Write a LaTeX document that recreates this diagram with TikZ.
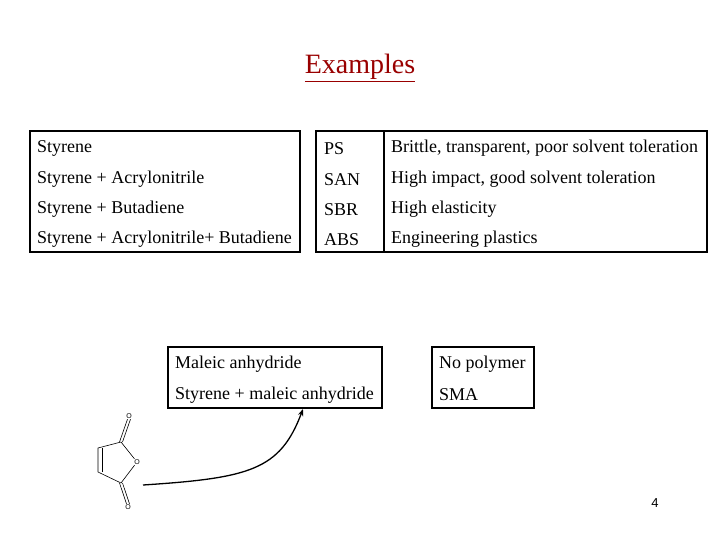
\documentclass[tikz,border=0pt]{standalone}
\usepackage{fontspec}
\setmainfont{Liberation Serif}
\newfontfamily\sansf{Liberation Sans}
\usetikzlibrary{arrows.meta}
\begin{document}
\begin{tikzpicture}[x=1pt,y=-1pt,
  tx/.style={anchor=west,inner sep=0pt,font=\fontsize{18}{20}\selectfont},
  bx/.style={draw,line width=1.2pt},
  bond/.style={line width=0.6pt},
  atom/.style={inner sep=0.5pt,font=\sansf\fontsize{7}{8}\selectfont}]
\useasboundingbox (0,0) rectangle (720,540);
\node[inner sep=0pt,text=red!60!black,font=\fontsize{28}{32}\selectfont] (title) at (360,68) {\underline{Examples}};
% table 1
\draw[bx] (30,131) rectangle (300,252);
\draw[bx] (316,131) rectangle (384,252);
\draw[bx] (384,131) rectangle (707,252);
\foreach \y/\a/\b/\c [count=\i] in {148/Styrene/PS/{Brittle, transparent, poor solvent toleration},
  179/Styrene + Acrylonitrile/SAN/{High impact, good solvent toleration},
  209/Styrene + Butadiene/SBR/High elasticity,
  239/Styrene + Acrylonitrile+ Butadiene/ABS/Engineering plastics}{
  \node[tx] (a\i) at (37,\y) {\a};
  \node[tx] (b\i) at (324,\y+1) {\b};
  \node[tx] (c\i) at (391,\y) {\c};
}
% table 2
\draw[bx] (168,347) rectangle (382,408);
\draw[bx] (432,347) rectangle (534,408);
\node[tx] (m1) at (175,364) {Maleic anhydride};
\node[tx] (m2) at (175,395) {Styrene + maleic anhydride};
\node[tx] (n1) at (439,364) {No polymer};
\node[tx] (n2) at (439,395) {SMA};
% molecule
\node[atom] (o1) at (129,416) {O};
\node[atom] (o2) at (137,462) {O};
\node[atom] (o3) at (128,507) {O};
\coordinate (c1) at (121,442);
\coordinate (c2) at (121,483);
\coordinate (c3) at (98,448);
\coordinate (c4) at (98,472);
\draw[bond] (c1) -- (o2) -- (c2) -- (c4) -- (c3) -- (c1);
\draw[bond] ([xshift=4pt]c3) -- ([xshift=4pt]c4);
\draw[bond] ([xshift=-1.5pt]c1) -- ([xshift=-1.5pt]o1.south);
\draw[bond] ([xshift=1.5pt]c1) -- ([xshift=1.5pt]o1.south);
\draw[bond] ([xshift=-1.5pt]c2) -- ([xshift=-1.5pt]o3.north);
\draw[bond] ([xshift=1.5pt]c2) -- ([xshift=1.5pt]o3.north);
\coordinate (s) at (143,485);
\coordinate (e) at (303,409);
\draw[line width=1.3pt,-{Stealth[length=7pt]}] (s) .. controls (250,478) and (280,470) .. (e);
\node[inner sep=0pt,font=\sansf\fontsize{13}{15}\selectfont] (pg) at (655,503) {4};
\end{tikzpicture}
\end{document}
